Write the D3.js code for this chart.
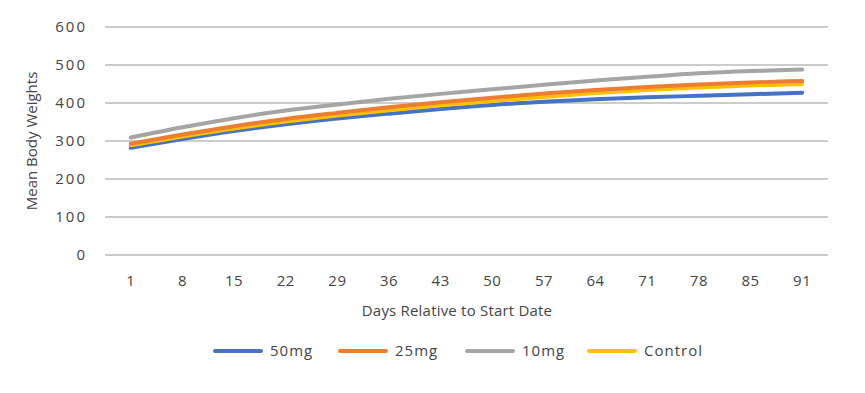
<!DOCTYPE html>
<html lang="en">
<head>
    <meta charset="UTF-8">
    <title>Mean Body Weights</title>
    <script src="https://d3js.org/d3.v7.min.js"></script>
    <style>
        body {
            margin: 0;
            padding: 0;
            background-color: white;
            font-family: 'Open Sans', 'Lato', sans-serif;
        }
        svg text { fill: #454545; font-family: 'Open Sans', sans-serif; }
    </style>
</head>
<body>
    <div id="chart"></div>
    <script>
        // chart values
        const days = [1, 8, 15, 22, 29, 36, 43, 50, 57, 64, 71, 78, 85, 91];
        const seriesNames = ["50mg", "25mg", "10mg", "Control"];
        const seriesColors = ["#4472C4", "#ED7D31", "#A5A5A5", "#FFC000"];
        const mg50 = [282, 305, 326, 344, 359, 372, 384, 395, 403, 410, 415, 419, 423, 427];
        const mg25 = [293, 317, 339, 358, 374, 389, 402, 414, 425, 434, 442, 449, 454, 458];
        const mg10 = [309, 336, 360, 380, 396, 411, 424, 436, 448, 459, 469, 478, 484, 488];
        const control = [289, 312, 333, 351, 367, 381, 394, 405, 416, 426, 434, 441, 446, 450];
        const yTicks = [0, 100, 200, 300, 400, 500, 600];

        const width = 865, height = 393;
        const margin = {left: 105, right: 37, top: 27, bottom: 138};

        const svg = d3.select("#chart").append("svg")
            .attr("width", width)
            .attr("height", height);

        const x = d3.scaleBand()
            .domain(days)
            .range([margin.left, width - margin.right]);

        const y = d3.scaleLinear()
            .domain([0, 600])
            .range([height - margin.bottom, margin.top]);

        // gridlines
        svg.append("g")
            .selectAll("line")
            .data(yTicks)
            .join("line")
            .attr("x1", margin.left)
            .attr("x2", width - margin.right)
            .attr("y1", d => y(d))
            .attr("y2", d => y(d))
            .attr("stroke", "#cccccc")
            .attr("stroke-width", 1.8);

        // y axis labels
        const yAxis = svg.append("g")
            .attr("transform", `translate(${margin.left - 18},0)`)
            .call(d3.axisLeft(y).tickValues(yTicks).tickSize(0).tickPadding(0));
        yAxis.select(".domain").remove();
        yAxis.selectAll("text")
            .style("font-size", "15px")
            .style("letter-spacing", "2px")
            .attr("font-family", null);

        // x axis labels
        const xAxis = svg.append("g")
            .attr("transform", `translate(0,${y(0) + 20})`)
            .call(d3.axisBottom(x).tickSize(0).tickPadding(0));
        xAxis.select(".domain").remove();
        xAxis.selectAll("text")
            .style("font-size", "15px")
            .style("letter-spacing", "0.5px")
            .attr("font-family", null);

        // axis titles
        svg.append("text")
            .attr("x", 457)
            .attr("y", 316)
            .attr("text-anchor", "middle")
            .style("font-size", "15px")
            .style("letter-spacing", "0.2px")
            .text("Days Relative to Start Date");

        svg.append("text")
            .attr("transform", `translate(37,${y(300)}) rotate(-90)`)
            .attr("text-anchor", "middle")
            .style("font-size", "15px")
            .text("Mean Body Weights");

        // lines (control sits beneath 25mg)
        const allSeries = [mg50, control, mg25, mg10];
        const allColors = [seriesColors[0], seriesColors[3], seriesColors[1], seriesColors[2]];
        const line = d3.line()
            .x((d, i) => x(days[i]) + x.bandwidth() / 2)
            .y(d => y(d))
            .curve(d3.curveMonotoneX);

        svg.append("g")
            .selectAll("path")
            .data(allSeries)
            .join("path")
            .attr("d", d => line(d))
            .attr("fill", "none")
            .attr("stroke", (d, i) => allColors[i])
            .attr("stroke-width", 4)
            .attr("stroke-linecap", "round");

        // legend
        const legendX = [215, 340, 467, 589];
        const legend = svg.append("g");
        seriesNames.forEach((name, i) => {
            legend.append("line")
                .attr("x1", legendX[i])
                .attr("x2", legendX[i] + 46)
                .attr("y1", 351)
                .attr("y2", 351)
                .attr("stroke", seriesColors[i])
                .attr("stroke-width", 4)
                .attr("stroke-linecap", "round");
            legend.append("text")
                .attr("x", legendX[i] + 55)
                .attr("y", 356)
                .style("font-size", "15px")
                .style("letter-spacing", "1px")
                .text(name);
        });
    </script>
</body>
</html>
